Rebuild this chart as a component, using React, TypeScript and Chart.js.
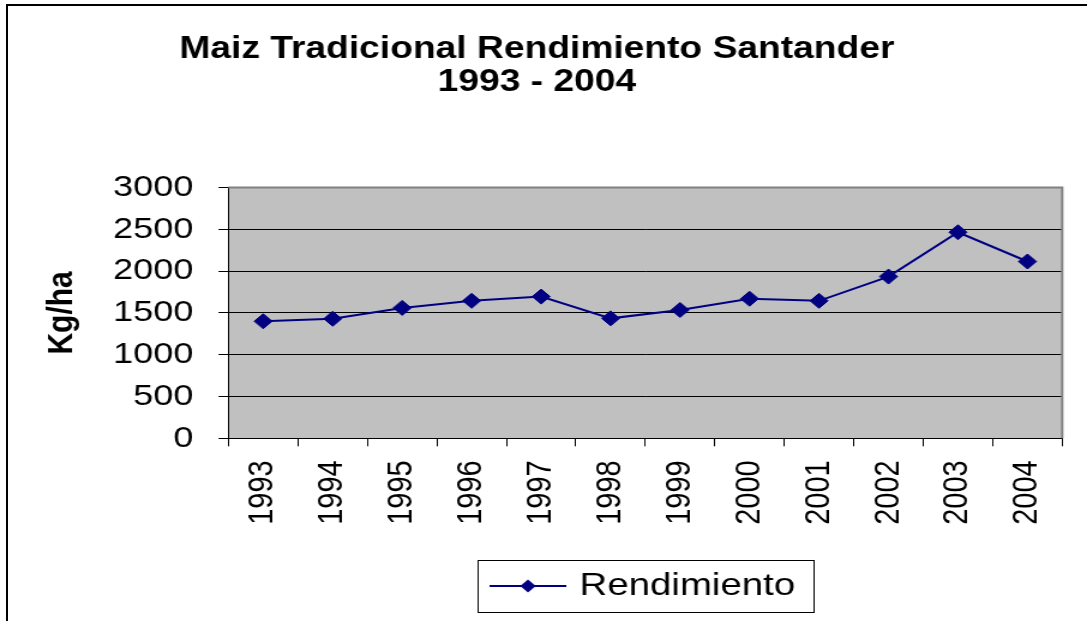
import React, { useEffect, useRef } from 'react';
import { Chart, registerables } from 'chart.js';

Chart.register(...registerables);

// ---- data ----
const years: string[] = ['1993', '1994', '1995', '1996', '1997', '1998', '1999', '2000', '2001', '2002', '2003', '2004'];
const rendimiento: number[] = [1400, 1430, 1560, 1645, 1695, 1435, 1535, 1670, 1645, 1935, 2465, 2115];
const yTicks: number[] = [0, 500, 1000, 1500, 2000, 2500, 3000];
const chartTitle: string[] = ['Maiz Tradicional Rendimiento Santander', '1993 - 2004'];
const yAxisTitle = 'Kg/ha';
const seriesName = 'Rendimiento';

// ---- layout (canvas is drawn narrower and stretched horizontally) ----
const SX = 1.2;
const W = 1087;
const H = 621;
const CW = Math.round(W / SX);
const FONT = 'Arial, "Liberation Sans", sans-serif';

export default function App() {
  const ref = useRef<HTMLCanvasElement>(null);

  useEffect(() => {
    document.body.style.margin = '0';
    const canvas = ref.current;
    if (!canvas) return;

    const icon = document.createElement('canvas');
    icon.width = 64;
    icon.height = 16;
    const g = icon.getContext('2d')!;
    g.strokeStyle = '#000080';
    g.lineWidth = 2;
    g.beginPath();
    g.moveTo(0, 8);
    g.lineTo(64, 8);
    g.stroke();
    g.fillStyle = '#000080';
    g.beginPath();
    g.moveTo(32 - 6.5, 8);
    g.lineTo(32, 8 - 6.5);
    g.lineTo(32 + 6.5, 8);
    g.lineTo(32, 8 + 6.5);
    g.closePath();
    g.fill();

    const framePlugin = {
      id: 'frame',
      beforeDraw(chart: any) {
        const { ctx, chartArea: a } = chart;
        ctx.save();
        ctx.fillStyle = '#C0C0C0';
        ctx.fillRect(a.left, a.top, a.right - a.left, a.bottom - a.top);
        ctx.restore();
      },
      beforeDatasetsDraw(chart: any) {
        const { ctx, chartArea: a } = chart;
        ctx.save();
        ctx.strokeStyle = '#808080';
        ctx.lineWidth = 2;
        ctx.beginPath();
        ctx.moveTo(a.left, a.top);
        ctx.lineTo(a.right, a.top);
        ctx.lineTo(a.right, a.bottom);
        ctx.stroke();
        ctx.restore();
      },
      afterDraw(chart: any) {
        const lg = chart.legend;
        if (!lg || !lg.legendHitBoxes || !lg.legendHitBoxes.length) return;
        const hb = lg.legendHitBoxes[0];
        const { ctx } = chart;
        ctx.save();
        ctx.strokeStyle = '#000';
        ctx.lineWidth = 1;
        const cy = hb.top + hb.height / 2;
        ctx.strokeRect(Math.round(hb.left - 15) + 0.5, Math.round(cy - 26) + 0.5, Math.round(hb.width + 30), 52);
        ctx.restore();
      },
    };

    const chart = new Chart(canvas, {
      type: 'line',
      data: {
        labels: years,
        datasets: [
          {
            label: seriesName,
            data: rendimiento,
            borderColor: '#000080',
            backgroundColor: '#000080',
            borderWidth: 2,
            tension: 0,
            fill: false,
            pointStyle: 'rectRot',
            pointRadius: 7.5,
            pointHoverRadius: 7.5,
            pointBorderWidth: 1,
            pointBackgroundColor: '#000080',
            pointBorderColor: '#000080',
          },
        ],
      },
      options: {
        responsive: false,
        animation: false,
        events: [],
        layout: { padding: { left: 8.75, right: 19.75, top: 0, bottom: 9 } },
        plugins: {
          title: {
            display: true,
            text: chartTitle,
            color: '#000',
            font: { family: FONT, size: 31, weight: 'bold', lineHeight: 1.07 },
            padding: { top: 33, bottom: 88.2 },
          },
          legend: {
            display: true,
            position: 'bottom',
            fullSize: false,
            labels: {
              usePointStyle: true,
              pointStyle: icon as any,
              pointStyleWidth: 54,
              padding: 10,
              color: '#000',
              font: { family: FONT, size: 32 },
            },
          },
          tooltip: { enabled: false },
        },
        scales: {
          x: {
            type: 'category',
            offset: true,
            grid: { offset: true, drawOnChartArea: false, drawTicks: true, tickLength: 8, color: '#000', lineWidth: 1 },
            border: { display: true, color: '#000', width: 1 },
            ticks: {
              autoSkip: false,
              minRotation: 90,
              maxRotation: 90,
              padding: 14,
              color: '#000',
              font: { family: FONT, size: 29 },
            },
            afterFit: (s: any) => {
              s.height = 121.7;
            },
          },
          y: {
            min: 0,
            max: 3000,
            afterBuildTicks: (s: any) => {
              s.ticks = yTicks.map((v) => ({ value: v }));
            },
            grid: {
              color: (c: any) => (c.tick && c.tick.value === 3000 ? 'rgba(0,0,0,0)' : '#000'),
              tickColor: '#000',
              lineWidth: 1,
              drawTicks: true,
              tickLength: 8.3,
            },
            border: { display: true, color: '#000', width: 1 },
            ticks: {
              padding: 21,
              color: '#000',
              font: { family: FONT, size: 30 },
              callback: (v: any) => String(v),
            },
            title: {
              display: true,
              text: yAxisTitle,
              color: '#000',
              font: { family: FONT, size: 30, weight: 'bold' },
              padding: { top: 25, bottom: 0 },
            },
            afterFit: (s: any) => {
              s.width = 181.65;
            },
          },
        },
      } as any,
      plugins: [framePlugin],
    });

    return () => {
      chart.destroy();
    };
  }, []);

  return (
    <div style={{ position: 'relative', width: W, height: H, overflow: 'hidden', background: '#fff' }}>
      <div
        style={{
          position: 'absolute',
          left: 6,
          top: 4,
          width: 1100,
          height: 700,
          border: '2px solid #000',
          boxSizing: 'border-box',
        }}
      />
      <canvas
        ref={ref}
        width={CW}
        height={H}
        style={{ position: 'absolute', left: 0, top: 0, width: W + 'px', height: H + 'px' }}
      />
    </div>
  );
}
